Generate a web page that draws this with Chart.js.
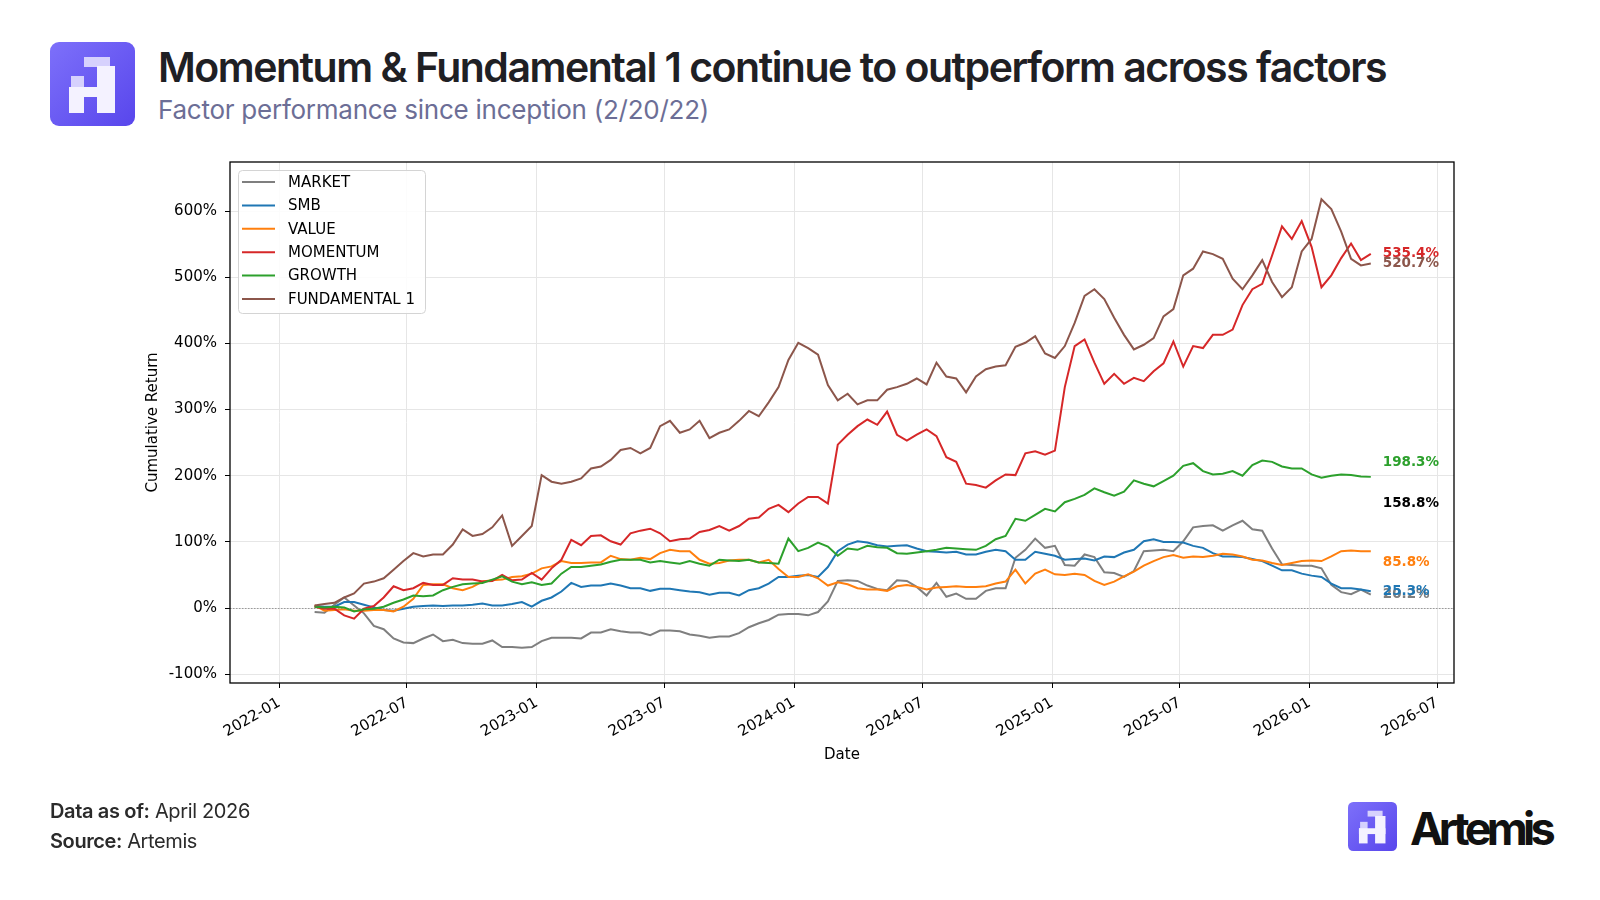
<!DOCTYPE html>
<html>
<head>
<meta charset="utf-8">
<script src="https://cdn.jsdelivr.net/npm/chart.js@4.4.1/dist/chart.umd.min.js"></script>
<style>
  html, body { margin: 0; padding: 0; background: #fff; }
  #page { position: relative; width: 1600px; height: 900px; overflow: hidden; font-family: Inter, "Noto Sans", sans-serif; }
  .txt { position: absolute; white-space: nowrap; line-height: 1; }
  #title { left: 158px; top: 47px; font-size: 41px; font-weight: 600; color: #1f2024; }
  #subtitle { left: 158px; top: 97px; font-size: 26px; font-weight: 400; color: #6c6e96; }
  #asof { left: 50px; top: 801px; font-size: 20px; color: #2b2b2b; }
  #source { left: 50px; top: 831px; font-size: 20px; color: #2b2b2b; }
  #asof b, #source b { font-weight: 600; }
  #brand { left: 1410px; top: 806px; font-size: 45px; font-weight: 700; color: #111; }
  #logo { position: absolute; left: 50px; top: 42px; }
  #logo2 { position: absolute; left: 1348px; top: 802px; }
  #wrap { position: absolute; left: 0; top: 140px; width: 1600px; height: 660px; }
</style>
</head>
<body>
<div id="page">
  <svg id="logo" width="85" height="84" viewBox="0 0 85 84">
    <defs>
      <linearGradient id="g1" x1="0" y1="0" x2="1" y2="1">
        <stop offset="0" stop-color="#7d70fa"/>
        <stop offset="1" stop-color="#5846ec"/>
      </linearGradient>
    </defs>
    <rect x="0" y="0" width="85" height="84" rx="9" fill="url(#g1)"/>
    <rect x="34" y="15" width="26" height="10" fill="#d6d1fd"/>
    <rect x="47" y="24" width="18" height="47" fill="#f4f2ff"/>
    <rect x="21" y="34" width="13" height="11" fill="#d6d1fd"/>
    <rect x="19" y="45" width="15" height="26" fill="#f4f2ff"/>
    <rect x="19" y="45" width="46" height="10" fill="#f4f2ff"/>
  </svg>
  <div id="title" class="txt">Momentum &amp; Fundamental 1 continue to outperform across factors</div>
  <div id="subtitle" class="txt">Factor performance since inception (2/20/22)</div>
  <div id="wrap"><canvas id="chart" width="1600" height="660"></canvas></div>
  <div id="asof" class="txt"><b>Data as of:</b> April 2026</div>
  <div id="source" class="txt"><b>Source:</b> Artemis</div>
  <svg id="logo2" width="49" height="49" viewBox="0 0 85 84" preserveAspectRatio="none">
    <defs>
      <linearGradient id="g2" x1="0" y1="0" x2="1" y2="1">
        <stop offset="0" stop-color="#7d70fa"/>
        <stop offset="1" stop-color="#5846ec"/>
      </linearGradient>
    </defs>
    <rect x="0" y="0" width="85" height="84" rx="9" fill="url(#g2)"/>
    <rect x="34" y="15" width="26" height="10" fill="#d6d1fd"/>
    <rect x="47" y="24" width="18" height="47" fill="#f4f2ff"/>
    <rect x="21" y="34" width="13" height="11" fill="#d6d1fd"/>
    <rect x="19" y="45" width="15" height="26" fill="#f4f2ff"/>
    <rect x="19" y="45" width="46" height="10" fill="#f4f2ff"/>
  </svg>
  <div id="brand" class="txt">Artemis</div>
</div>

<script>
// sampling: one point every two weeks from inception
const firstDate = '2022-02-20';
const stepDays = 14;

const seriesNames = ['MARKET', 'SMB', 'VALUE', 'MOMENTUM', 'GROWTH', 'FUNDAMENTAL 1'];
const seriesColors = ['#7f7f7f', '#1f77b4', '#ff7f0e', '#d62728', '#2ca02c', '#8c564b'];

const market = [-6,-7,5,16,4,-8,-27,-32,-46,-52,-53,-46,-40,-50,-48,-53,-54,-54,-49,-59,
  -59,-60,-59,-50,-45,-45,-45,-46,-37,-37,-32,-35,-37,-37,-41,-34,-34,-35,-40,-42,
  -45,-43,-43,-38,-29,-23,-18,-10,-9,-9,-11,-6,
  10,41,42,41,34,29,27,42,41,32,19,38,17,22,14,14,26,30,30,76,
  88,105,91,94,65,64,81,77,54,53,47,56,86,87,88,86,101,122,124,125,
  117,125,132,119,117,90,66,65,64,64,60,35,24,21,28,20.2];
const smb = [3,2,2,9,9,5,1,-3,-4,-1,2,3,4,3,4,4,5,7,4,4,
  6,9,2,11,16,25,38,32,34,34,37,34,30,30,26,29,29,27,25,24,
  20,23,23,19,27,30,37,47,47,49,50,47,
  62,86,96,101,99,95,93,94,95,90,86,85,84,85,81,81,85,88,86,73,
  73,85,82,79,73,74,75,72,78,77,84,88,101,104,100,100,99,94,91,83,
  78,78,77,74,71,64,57,57,52,49,47,37,30,30,28,25.3];
const value = [4,-4,-3,-2,-4,-4,-3,-3,-5,2,14,35,36,36,30,27,32,40,42,43,
  47,48,52,60,63,71,68,68,69,69,79,74,73,76,74,83,88,86,86,73,
  67,68,72,73,73,69,73,59,47,47,51,45,
  34,39,36,30,28,28,26,33,35,32,28,31,32,33,32,32,33,37,40,58,
  37,52,58,51,50,52,50,41,35,40,48,55,64,71,77,80,76,78,77,79,
  82,81,78,73,72,68,65,68,71,72,71,78,86,87,86,85.8];
const momentum = [2,-1,-1,-11,-16,-1,3,16,33,27,30,38,35,35,45,43,43,40,41,50,
  42,43,53,43,60,73,103,95,109,110,101,96,113,117,120,113,101,104,105,115,
  118,124,117,124,135,137,150,156,145,158,168,168,
  158,247,262,275,285,277,297,262,253,262,270,260,228,221,188,186,182,193,202,201,
  234,237,232,238,334,396,406,371,339,354,339,348,343,358,370,403,365,396,393,413,
  413,421,458,482,490,533,577,558,585,546,485,503,529,551,526,535.4];
const growth = [2,1,2,1,-5,-2,-1,2,8,13,19,18,19,27,32,36,37,38,43,48,
  40,36,39,35,37,52,62,62,64,66,70,73,73,73,69,71,69,67,71,67,
  64,73,72,71,73,69,68,67,105,86,91,99,
  93,79,90,88,94,92,91,83,82,84,86,88,91,90,89,88,94,104,109,135,
  132,141,150,146,160,165,171,181,175,170,176,193,188,184,192,200,215,219,207,202,
  203,207,200,216,223,221,214,211,211,202,197,200,202,201,199,198.3];
const fundamental1 = [4,6,8,16,22,37,40,45,58,71,83,78,81,81,96,119,109,112,122,140,
  94,109,124,201,191,188,191,196,211,214,224,239,242,234,242,275,283,265,270,283,
  257,265,270,283,298,290,311,334,375,401,393,383,
  337,314,324,308,314,314,330,334,339,347,338,371,350,347,326,350,361,365,367,395,
  401,411,385,378,396,431,472,482,467,439,413,391,398,408,441,452,503,513,539,535,
  528,498,482,503,526,493,470,485,539,558,618,603,569,528,518,520.7];

const allSeries = [market, smb, value, momentum, growth, fundamental1];

// final-value annotations at the right edge
const endLabels = ['20.2%', '25.3%', '85.8%', '535.4%', '198.3%', '520.7%', '158.8%'];
const endLabelColors = ['#7f7f7f', '#1f77b4', '#ff7f0e', '#d62728', '#2ca02c', '#8c564b', '#000000'];
const endLabelAt = [20.2, 25.3, 69, 535.4, 219.5, 520.7, 158.8];

const xTickDates = ['2022-01-01','2022-07-01','2023-01-01','2023-07-01','2024-01-01',
  '2024-07-01','2025-01-01','2025-07-01','2026-01-01','2026-07-01'];
const xTickLabels = ['2022-01','2022-07','2023-01','2023-07','2024-01',
  '2024-07','2025-01','2025-07','2026-01','2026-07'];
const yTicks = [-100, 0, 100, 200, 300, 400, 500, 600];

const epoch = Date.UTC(2022, 0, 1);
function dayOf(s) {
  return (Date.UTC(+s.slice(0, 4), +s.slice(5, 7) - 1, +s.slice(8, 10)) - epoch) / 86400000;
}
const xTickDays = xTickDates.map(dayOf);
const startDay = dayOf(firstDate);
const sampleDays = market.map((_, i) => startDay + i * stepDays);

const datasets = allSeries.map((s, i) => ({
  label: seriesNames[i],
  data: s.map((v, j) => ({ x: sampleDays[j], y: v })),
  borderColor: seriesColors[i],
  backgroundColor: seriesColors[i],
  borderWidth: 2,
  pointRadius: 0,
  tension: 0,
  order: seriesNames.length - i
}));

const frame = {
  id: 'frame',
  beforeDatasetsDraw(chart) {
    const { ctx, chartArea: a, scales } = chart;
    const y0 = Math.round(scales.y.getPixelForValue(0)) + 0.5;
    ctx.save();
    ctx.strokeStyle = '#9a9a9a';
    ctx.lineWidth = 1;
    ctx.setLineDash([1.5, 1.5]);
    ctx.beginPath();
    ctx.moveTo(a.left, y0);
    ctx.lineTo(a.right, y0);
    ctx.stroke();
    ctx.restore();
  },
  afterDatasetsDraw(chart) {
    const { ctx, chartArea: a, scales } = chart;
    ctx.save();
    // spines
    ctx.strokeStyle = '#000';
    ctx.lineWidth = 1.3;
    ctx.strokeRect(a.left, a.top, a.right - a.left, a.bottom - a.top);

    // end labels
    const lastX = scales.x.getPixelForValue(sampleDays[sampleDays.length - 1]) + 12;
    ctx.font = 'bold 13.5px "DejaVu Sans"';
    ctx.textBaseline = 'middle';
    ctx.textAlign = 'left';
    endLabels.forEach((t, i) => {
      ctx.fillStyle = endLabelColors[i];
      ctx.fillText(t, lastX, scales.y.getPixelForValue(endLabelAt[i]));
    });

    // legend box
    const bx = a.left + 8, by = a.top + 8, bw = 187, bh = 143;
    ctx.fillStyle = 'rgba(255,255,255,0.85)';
    ctx.strokeStyle = '#d4d4d4';
    ctx.lineWidth = 1;
    ctx.beginPath();
    ctx.roundRect(bx + 0.5, by + 0.5, bw, bh, 4);
    ctx.fill();
    ctx.stroke();
    ctx.font = '15px "DejaVu Sans"';
    chart.data.datasets.forEach((d, i) => {
      const ry = by + 12 + i * 23.4;
      ctx.strokeStyle = d.borderColor;
      ctx.lineWidth = 2;
      ctx.beginPath();
      ctx.moveTo(bx + 4, ry);
      ctx.lineTo(bx + 37, ry);
      ctx.stroke();
      ctx.fillStyle = '#000';
      ctx.fillText(d.label, bx + 50, ry + 1);
    });
    ctx.restore();
  }
};

const tickFont = { family: 'DejaVu Sans', size: 15 };

new Chart(document.getElementById('chart'), {
  type: 'line',
  data: { datasets },
  options: {
    responsive: false,
    animation: false,
    devicePixelRatio: 1,
    layout: { padding: { left: 140, right: 146, top: 22, bottom: 32 } },
    plugins: { legend: { display: false }, tooltip: { enabled: false } },
    scales: {
      x: {
        type: 'linear',
        min: -70,
        max: 1666,
        afterBuildTicks: s => { s.ticks = xTickDays.map(v => ({ value: v })); },
        afterFit: s => { s.height = 85; },
        ticks: {
          autoSkip: false, minRotation: 30, maxRotation: 30, padding: 6,
          color: '#000', font: tickFont,
          callback: v => xTickLabels[xTickDays.indexOf(v)]
        },
        grid: { color: '#e6e6e6', tickColor: '#000', tickLength: 5, lineWidth: 1 },
        border: { display: false },
        title: { display: true, text: 'Date', color: '#000', font: tickFont, padding: { top: 4, bottom: 4 } }
      },
      y: {
        min: -113.3,
        max: 674.3,
        afterBuildTicks: s => { s.ticks = yTicks.map(v => ({ value: v })); },
        afterFit: s => { s.width = 90; },
        ticks: { color: '#000', font: tickFont, padding: 8, callback: v => v + '%' },
        grid: { color: '#e6e6e6', tickColor: '#000', tickLength: 5, lineWidth: 1 },
        border: { display: false },
        title: { display: true, text: 'Cumulative Return', color: '#000', font: tickFont, padding: { top: 4, bottom: 4 } }
      }
    }
  },
  plugins: [frame]
});

// squeeze header/footer text to the widths seen in the reference
function fitText(id, target) {
  const el = document.getElementById(id);
  const w = el.getBoundingClientRect().width;
  const n = el.textContent.length;
  el.style.letterSpacing = ((target - w) / n) + 'px';
}
fitText('title', 1228);
fitText('subtitle', 551);
fitText('asof', 200);
fitText('source', 147);
fitText('brand', 141);
</script>
</body>
</html>
